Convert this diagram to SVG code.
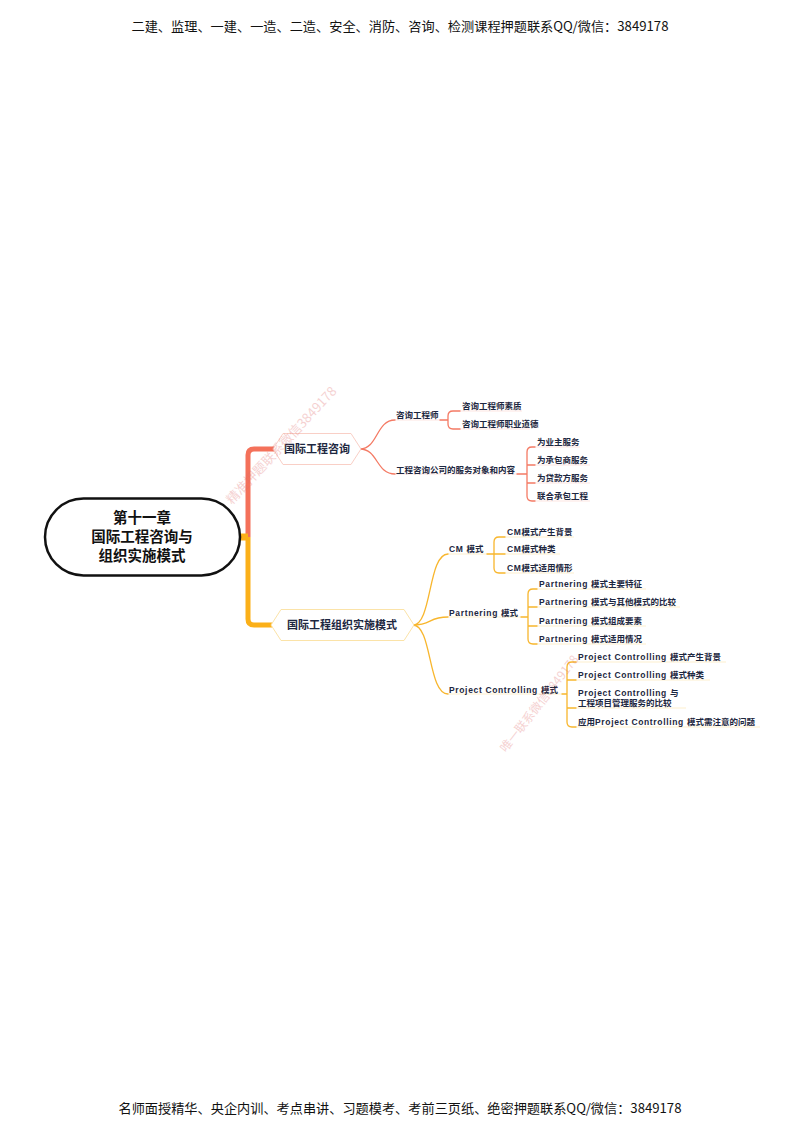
<svg xmlns="http://www.w3.org/2000/svg" width="800" height="1130" viewBox="0 0 800 1130">
<style>
.hdr{font-family:"Noto Sans CJK SC","Liberation Sans",sans-serif;font-size:13px;fill:#111}
.root{font-family:"Noto Sans CJK SC","Liberation Sans",sans-serif;font-size:14.5px;font-weight:bold;fill:#111;text-anchor:middle}
.main{font-family:"Noto Sans CJK SC","Liberation Sans",sans-serif;font-size:11px;font-weight:bold;fill:#1d2740;text-anchor:middle}
.lbl{font-family:"Liberation Sans","Noto Sans CJK SC",sans-serif;font-size:8.5px;font-weight:bold;fill:#1d2740}
.lat{letter-spacing:0.65px}
.red{fill:none;stroke:#f47a64;stroke-width:1.3;stroke-linecap:round}
.org{fill:none;stroke:#f8b62d;stroke-width:1.3;stroke-linecap:round}
.ul-r{fill:none;stroke:#f47a64;stroke-width:0.8;opacity:0.25}
.ul-o{fill:none;stroke:#f8b62d;stroke-width:0.8;opacity:0.3}
.wm{font-family:"Noto Sans CJK SC",serif;fill:#e06a6a;opacity:0.3}
</style>

<text class="hdr" x="400" y="31" text-anchor="middle" textLength="537" lengthAdjust="spacingAndGlyphs">二建、监理、一建、一造、二造、安全、消防、咨询、检测课程押题联系QQ/微信：3849178</text>
<text class="hdr" x="400" y="1113" text-anchor="middle" textLength="563" lengthAdjust="spacingAndGlyphs">名师面授精华、央企内训、考点串讲、习题模考、考前三页纸、绝密押题联系QQ/微信：3849178</text>

<g id="connectors">
  <path d="M248,537 V455 Q248,449 254,449 H278" fill="none" stroke="#f4715a" stroke-width="5"/>
  <path d="M248,537 V619 Q248,625 254,625 H275" fill="none" stroke="#fbb019" stroke-width="5"/>
  <rect x="240" y="533.5" width="8" height="7" fill="#fbb019"/>
  <path class="red" d="M360,449 C378,449 376,420 395,420"/>
  <path class="red" d="M360,449 C378,449 376,474 395,474"/>
  <path class="red" d="M440,420 H448 M453,411 Q448,411 448,416 V424 Q448,429 453,429 H460 M453,411 H460"/>
  <path class="red" d="M517,474 H527 M532,447 Q527,447 527,452 V496 Q527,501 532,501 H535 M532,447 H535 M527,465 H535 M527,483 H535"/>
  <path class="org" d="M413,625 C432,625 428,554 448,554"/>
  <path class="org" d="M413,625 C432,625 428,617 448,617"/>
  <path class="org" d="M413,625 C432,625 428,694 448,694"/>
  <path class="org" d="M487,554 H505 M499,537 Q494,537 494,542 V568 Q494,573 499,573 H505 M499,537 H505"/>
  <path class="org" d="M521,617 H528 M533,589 Q528,589 528,594 V639 Q528,644 533,644 H537 M533,589 H537 M528,607 H537 M528,626 H537"/>
  <path class="org" d="M562,694 H567 M572,662 Q567,662 567,667 V722 Q567,727 572,727 H576 M572,662 H576 M567,680 H576 M567,708 H576"/>
  <path class="ul-r" d="M395,420 H440 M460,411 H522 M460,429 H530 M395,474 H517 M535,447 H580 M535,465 H590 M535,483 H590 M535,501 H590"/>
  <path class="ul-o" d="M448,554 H487 M505,537 H574 M505,554 H560 M505,573 H574 M448,617 H521 M537,589 H646 M537,607 H680 M537,626 H646 M537,644 H646 M448,694 H562 M576,662 H726 M576,680 H710 M576,708 H686 M576,727 H760"/>
</g>

<g id="root">
  <rect x="45" y="498.5" width="195" height="77" rx="38.5" fill="#fff" stroke="#111" stroke-width="2.5"/>
  <text class="root" x="142" y="523">第十一章</text>
  <text class="root" x="142" y="542">国际工程咨询与</text>
  <text class="root" x="142" y="561">组织实施模式</text>
</g>

<g id="n1">
  <path d="M273,449 L283,433.5 H351 L361,449 L351,464.5 H283 Z" fill="#fff" stroke="#f9cfc6" stroke-width="1"/>
  <text class="main" x="317" y="453">国际工程咨询</text>
</g>
<g id="n2">
  <path d="M271,625 L281,609.5 H404 L414,625 L404,640.5 H281 Z" fill="#fff" stroke="#fbe3a8" stroke-width="1"/>
  <text class="main" x="342" y="629">国际工程组织实施模式</text>
</g>

<g id="n1a"><text class="lbl" x="396" y="418">咨询工程师</text></g>
<g id="n1a1"><text class="lbl" x="462" y="409">咨询工程师素质</text></g>
<g id="n1a2"><text class="lbl" x="462" y="427">咨询工程师职业道德</text></g>
<g id="n1b"><text class="lbl" x="396" y="473">工程咨询公司的服务对象和内容</text></g>
<g id="n1b1"><text class="lbl" x="537" y="445">为业主服务</text></g>
<g id="n1b2"><text class="lbl" x="537" y="463">为承包商服务</text></g>
<g id="n1b3"><text class="lbl" x="537" y="481">为贷款方服务</text></g>
<g id="n1b4"><text class="lbl" x="537" y="499">联合承包工程</text></g>

<g id="n2a"><text class="lbl" x="449" y="552"><tspan class="lat">CM </tspan>模式</text></g>
<g id="n2a1"><text class="lbl" x="507" y="535"><tspan class="lat">CM</tspan>模式产生背景</text></g>
<g id="n2a2"><text class="lbl" x="507" y="552"><tspan class="lat">CM</tspan>模式种类</text></g>
<g id="n2a3"><text class="lbl" x="507" y="571"><tspan class="lat">CM</tspan>模式适用情形</text></g>

<g id="n2b"><text class="lbl" x="449" y="616"><tspan class="lat">Partnering </tspan>模式</text></g>
<g id="n2b1"><text class="lbl" x="539" y="587"><tspan class="lat">Partnering </tspan>模式主要特征</text></g>
<g id="n2b2"><text class="lbl" x="539" y="605"><tspan class="lat">Partnering </tspan>模式与其他模式的比较</text></g>
<g id="n2b3"><text class="lbl" x="539" y="624"><tspan class="lat">Partnering </tspan>模式组成要素</text></g>
<g id="n2b4"><text class="lbl" x="539" y="642"><tspan class="lat">Partnering </tspan>模式适用情况</text></g>

<g id="n2c"><text class="lbl" x="449" y="693"><tspan class="lat">Project Controlling </tspan>模式</text></g>
<g id="n2c1"><text class="lbl" x="578" y="660"><tspan class="lat">Project Controlling </tspan>模式产生背景</text></g>
<g id="n2c2"><text class="lbl" x="578" y="678"><tspan class="lat">Project Controlling </tspan>模式种类</text></g>
<g id="n2c3"><text class="lbl" x="578" y="696"><tspan class="lat">Project Controlling </tspan>与</text><text class="lbl" x="578" y="706">工程项目管理服务的比较</text></g>
<g id="n2c4"><text class="lbl" x="578" y="725">应用<tspan class="lat">Project Controlling </tspan>模式需注意的问题</text></g>

<text class="wm" font-size="13" transform="translate(232,505) rotate(-47)">精准押题联系微信3849178</text>
<text class="wm" font-size="12" transform="translate(506,753) rotate(-52)">唯一联系微信3849178</text>
</svg>
